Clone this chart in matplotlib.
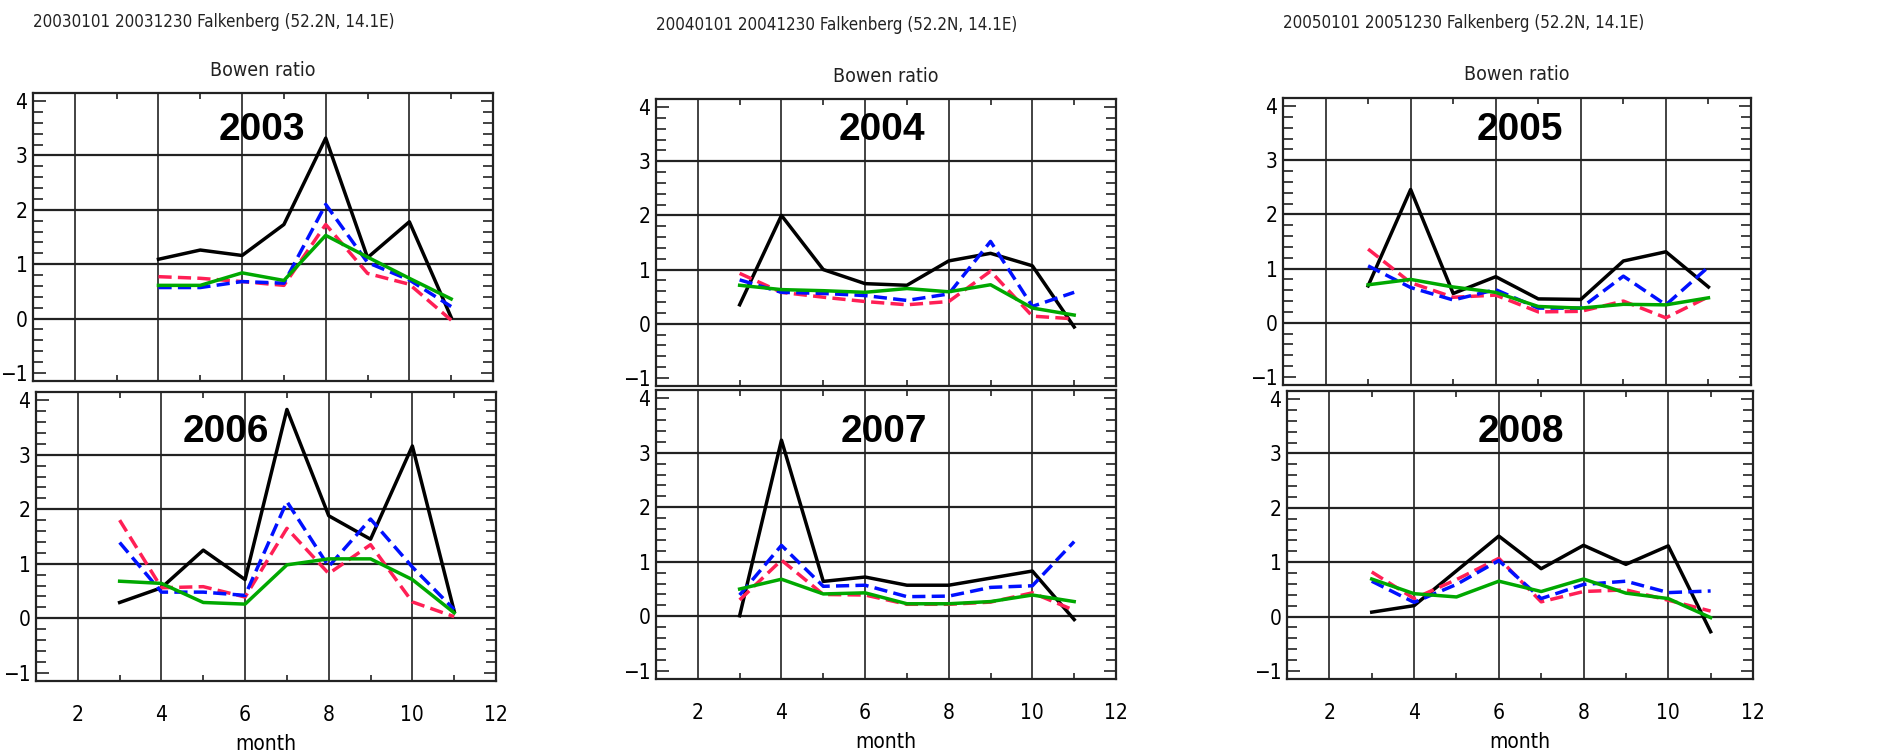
import matplotlib.pyplot as plt
from matplotlib import font_manager
from matplotlib.ticker import MultipleLocator

# months
months_2003 = [4, 5, 6, 7, 8, 9, 10, 11]
months = [3, 4, 5, 6, 7, 8, 9, 10, 11]

# Bowen ratio, four curves per year (black, blue, red, green)
black_2003 = [1.09, 1.26, 1.16, 1.73, 3.32, 1.12, 1.78, 0.02]
blue_2003 = [0.57, 0.57, 0.68, 0.65, 2.10, 1.03, 0.71, 0.22]
red_2003 = [0.77, 0.74, 0.68, 0.61, 1.73, 0.83, 0.63, -0.03]
green_2003 = [0.61, 0.61, 0.84, 0.70, 1.53, 1.13, 0.74, 0.36]

black_2004 = [0.35, 2.00, 1.00, 0.74, 0.71, 1.16, 1.30, 1.07, -0.06]
blue_2004 = [0.81, 0.58, 0.56, 0.52, 0.43, 0.55, 1.52, 0.32, 0.58]
red_2004 = [0.93, 0.58, 0.49, 0.41, 0.35, 0.41, 0.97, 0.14, 0.09]
green_2004 = [0.71, 0.63, 0.61, 0.58, 0.65, 0.59, 0.72, 0.29, 0.16]

black_2005 = [0.68, 2.46, 0.54, 0.85, 0.44, 0.43, 1.14, 1.31, 0.66]
blue_2005 = [1.05, 0.65, 0.42, 0.61, 0.27, 0.27, 0.86, 0.33, 1.03]
red_2005 = [1.36, 0.74, 0.47, 0.51, 0.20, 0.21, 0.40, 0.09, 0.48]
green_2005 = [0.70, 0.80, 0.66, 0.56, 0.30, 0.27, 0.34, 0.33, 0.46]

black_2006 = [0.29, 0.56, 1.25, 0.71, 3.83, 1.88, 1.45, 3.16, 0.13]
blue_2006 = [1.39, 0.48, 0.48, 0.42, 2.14, 0.95, 1.82, 0.94, 0.16]
red_2006 = [1.80, 0.56, 0.58, 0.39, 1.65, 0.82, 1.35, 0.30, 0.03]
green_2006 = [0.68, 0.64, 0.29, 0.26, 0.98, 1.09, 1.09, 0.71, 0.10]

black_2007 = [0.01, 3.23, 0.64, 0.72, 0.57, 0.57, 0.70, 0.83, -0.06]
blue_2007 = [0.39, 1.30, 0.55, 0.57, 0.36, 0.37, 0.53, 0.56, 1.37]
red_2007 = [0.30, 1.03, 0.40, 0.39, 0.22, 0.22, 0.26, 0.43, 0.11]
green_2007 = [0.50, 0.68, 0.41, 0.43, 0.23, 0.23, 0.27, 0.39, 0.27]

black_2008 = [0.08, 0.20, 0.84, 1.48, 0.88, 1.31, 0.96, 1.30, -0.28]
blue_2008 = [0.65, 0.26, 0.59, 1.03, 0.33, 0.59, 0.65, 0.44, 0.47]
red_2008 = [0.82, 0.33, 0.68, 1.07, 0.27, 0.46, 0.49, 0.30, 0.10]
green_2008 = [0.69, 0.42, 0.36, 0.65, 0.46, 0.69, 0.43, 0.33, -0.02]

headers = ['20030101 20031230 Falkenberg (52.2N, 14.1E)',
           '20040101 20041230 Falkenberg (52.2N, 14.1E)',
           '20050101 20051230 Falkenberg (52.2N, 14.1E)']

x_ticks = [2, 4, 6, 8, 10, 12]
y_ticks = [-1, 0, 1, 2, 3, 4]

# narrow font if there is one, else condensed DejaVu
installed = {f.name for f in font_manager.fontManager.ttflist}
if 'Liberation Sans Narrow' in installed:
    thin = dict(family='Liberation Sans Narrow')
    bold = dict(family='Liberation Sans Narrow', fontweight='bold', fontsize=33)
    head_size = 15
else:
    thin = dict(family='DejaVu Sans', fontstretch='condensed')
    bold = dict(family='Liberation Sans', fontweight='bold', fontsize=28)
    head_size = 12.2

W, H = 1879, 752
fig = plt.figure(figsize=(W / 100, H / 100), dpi=100)

# panel boxes in pixels: x0, y0, x1, y1 (from top-left), and year-label centre
panels = [
    (2003, (33, 93, 493, 381), (262, 130), months_2003, black_2003, blue_2003, red_2003, green_2003),
    (2004, (656, 99, 1116, 386), (882, 130), months, black_2004, blue_2004, red_2004, green_2004),
    (2005, (1283, 98, 1751, 385), (1520, 130), months, black_2005, blue_2005, red_2005, green_2005),
    (2006, (36, 392, 496, 681), (226, 432), months, black_2006, blue_2006, red_2006, green_2006),
    (2007, (656, 390, 1116, 679), (884, 432), months, black_2007, blue_2007, red_2007, green_2007),
    (2008, (1287, 391, 1753, 679), (1521, 432), months, black_2008, blue_2008, red_2008, green_2008),
]

for i, (year, box, ypos, mm, bk, bl, rd, gr) in enumerate(panels):
    x0, y0, x1, y1 = box
    ax = fig.add_axes([x0 / W, 1 - y1 / H, (x1 - x0) / W, (y1 - y0) / H])
    ax.set_xlim(1, 12)
    ax.set_ylim(-1.15, 4.15)

    for gx in x_ticks[:-1]:
        ax.axvline(gx, color='#222222', lw=1.2, zorder=1)
    for gy in y_ticks[1:-1]:
        ax.axhline(gy, color='#222222', lw=1.6, zorder=1)

    ax.plot(mm, bk, color='black', lw=2.5, zorder=3)
    ax.plot(mm, rd, color='#ff1f55', lw=2.5, dashes=(3.8, 1.8), zorder=3)
    ax.plot(mm, bl, color='#0010ff', lw=2.5, dashes=(3.8, 1.8), zorder=4)
    ax.plot(mm, gr, color='#00a800', lw=2.5, zorder=4)

    ax.set_xticks(x_ticks)
    ax.set_yticks(y_ticks)
    ax.set_yticklabels(['\u22121', '0', '1', '2', '3', '4'])
    ax.xaxis.set_minor_locator(MultipleLocator(1))
    ax.yaxis.set_minor_locator(MultipleLocator(0.2))
    ax.tick_params(which='both', direction='in', top=True, right=True, color='#222222')
    ax.tick_params(axis='x', which='major', length=0, pad=17, labelsize=15)
    ax.tick_params(axis='x', which='minor', length=4, width=1.2)
    ax.tick_params(axis='y', which='major', length=9, width=1.2, pad=4, labelsize=15)
    ax.tick_params(axis='y', which='minor', length=7, width=1.2)
    for lab in ax.get_xticklabels() + ax.get_yticklabels():
        lab.set(**thin)
    for sp in ax.spines.values():
        sp.set_linewidth(1.6)
        sp.set_color('#222222')

    if i < 3:
        ax.tick_params(axis='x', labelbottom=False)
        cx = (x0 + x1) / 2
        fig.text(x0 / W, 1 - [22, 25, 23][i] / H, headers[i], fontsize=head_size,
                 va='center', ha='left', color='#222222', **thin)
        fig.text(cx / W, 1 - [70, 77, 75][i] / H, 'Bowen ratio', fontsize=14,
                 va='center', ha='center', color='#222222', **thin)
    else:
        ax.set_xlabel('month', fontsize=15, labelpad=7, **thin)

    fig.text(ypos[0] / W, 1 - ypos[1] / H, str(year), ha='center', va='center',
             zorder=5, **bold)

fig.savefig('out.png', dpi=100)
